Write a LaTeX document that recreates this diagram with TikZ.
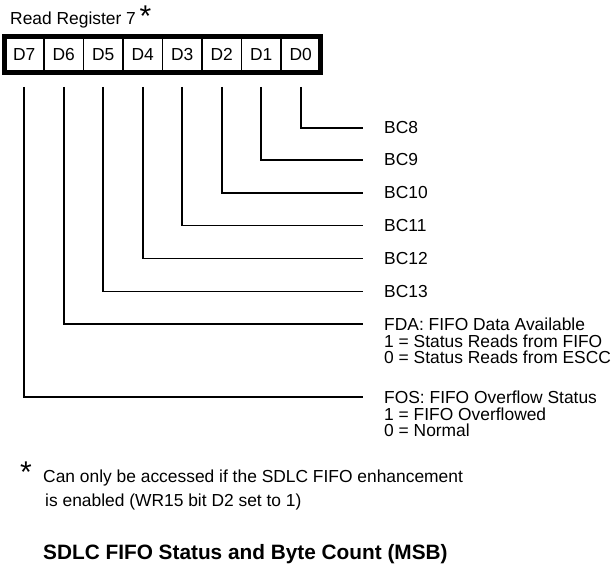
\documentclass[tikz,border=0pt]{standalone}
\usepackage{fontspec}
\setmainfont{Liberation Sans}
\usetikzlibrary{positioning}
\tikzset{
  bitcell/.style={draw,line width=1.2pt,minimum width=39.5pt,minimum height=36pt,
    inner sep=0pt,outer sep=0pt,font=\fontsize{17.4}{17.4}\selectfont},
  conn/.style={line width=1.8pt},
  lbl/.style={inner sep=0pt,align=left,font=\fontsize{17.4}{16.5}\selectfont},
  starmark/.style={inner sep=0pt,anchor=north,font=\fontsize{30}{30}\selectfont}
}
\begin{document}
\begin{tikzpicture}[x=1pt,y=-1pt]
  \useasboundingbox (0,0) rectangle (613,567);
  \node[lbl,anchor=base west] (title) at (10,24.6) {Read Register 7};
  \node[starmark] (star) at (145.5,6) {*};
  % register bits D7 ... D0
  \foreach \i/\b in {0/7,1/6,2/5,3/4,4/3,5/2,6/1,7/0}
    \node[bitcell] (d\b) at ({4.5+39.5*(\i+0.5)},54.5) {D\b};
  \draw[line width=5pt] (d7.north west) rectangle (d0.south east);
  % one connector per bit
  \foreach \b/\y in {0/128,1/160,2/193,3/225.5,4/258.5,5/291.5,6/324,7/397}{
    \coordinate (e\b) at (363,\y);
    \draw[conn] ([yshift=-14.5pt]d\b.south) |- (e\b);
  }
  \foreach \b/\n in {0/8,1/9,2/10,3/11,4/12,5/13}
    \node[lbl,anchor=west] (bc\n) at ([xshift=21pt]e\b) {BC\n};
  \node[lbl,anchor=north west] (fda) at ([xshift=21pt,yshift=6.2pt]e6)
    {FDA: FIFO Data Available\\1 = Status Reads from FIFO\\0 = Status Reads from ESCC};
  \node[lbl,anchor=north west] (fos) at ([xshift=21pt,yshift=6.2pt]e7)
    {FOS: FIFO Overflow Status\\1 = FIFO Overflowed\\0 = Normal};
  % footnote and caption
  \node[starmark] (fstar) at (26,462) {*};
  \node[lbl,anchor=north west,font=\fontsize{17.4}{24}\selectfont] (note) at (43,469.8)
    {Can only be accessed if the SDLC FIFO enhancement\\\hspace{2pt}is enabled (WR15 bit D2 set to 1)};
  \node[inner sep=0pt,anchor=base west,font=\bfseries\fontsize{20.8}{20.8}\selectfont] (caption)
    at (43,559) {SDLC FIFO Status and Byte Count (MSB)};
\end{tikzpicture}
\end{document}
